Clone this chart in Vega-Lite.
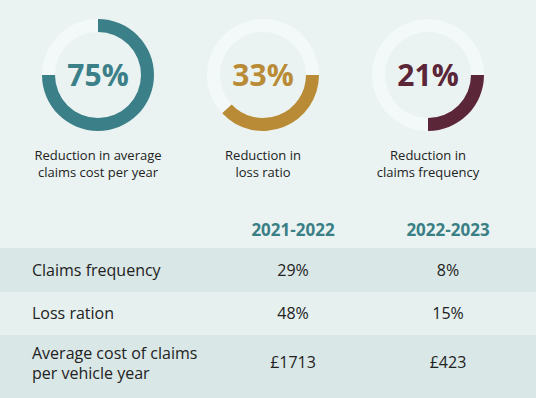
{
  "$schema": "https://vega.github.io/schema/vega-lite/v6.json",
  "background": "#eaf3f2",
  "padding": 0,
  "spacing": 0,
  "bounds": "flush",
  "config": {"view": {"stroke": null}, "font": "Open Sans", "text": {"font": "Open Sans"}},
  "datasets": {
    "donuts": [
      {"metric": "Average claims cost", "pct": "75%", "start": 0, "end": 75, "label": "Reduction in average\nclaims cost per year"},
      {"metric": "Loss ratio", "pct": "33%", "start": 25, "end": 63, "label": "Reduction in\nloss ratio"},
      {"metric": "Claims frequency", "pct": "21%", "start": 25, "end": 50, "label": "Reduction in\nclaims frequency"}
    ],
    "table": [
      {"row": "header", "col": "2021-2022", "text": "2021-2022"},
      {"row": "header", "col": "2022-2023", "text": "2022-2023"},
      {"row": "Claims frequency", "col": "label", "text": "Claims frequency"},
      {"row": "Claims frequency", "col": "2021-2022", "text": "29%"},
      {"row": "Claims frequency", "col": "2022-2023", "text": "8%"},
      {"row": "Loss ration", "col": "label", "text": "Loss ration"},
      {"row": "Loss ration", "col": "2021-2022", "text": "48%"},
      {"row": "Loss ration", "col": "2022-2023", "text": "15%"},
      {"row": "Average cost", "col": "label", "text": "Average cost of claims\nper vehicle year"},
      {"row": "Average cost", "col": "2021-2022", "text": "£1713"},
      {"row": "Average cost", "col": "2022-2023", "text": "£423"}
    ]
  },
  "vconcat": [
    {
      "width": 536, "height": 150,
      "data": {"name": "donuts"},
      "encoding": {
        "x": {"field": "metric", "type": "nominal", "scale": {"type": "point", "domain": ["Average claims cost", "Loss ratio", "Claims frequency"], "range": [98, 428], "padding": 0}, "axis": null}
      },
      "layer": [
        {"mark": {"type": "arc", "radius": 56, "radius2": 43, "theta": 0, "theta2": 6.2832, "color": "#f3f8f8"}},
        {"mark": {"type": "arc", "radius": 56, "radius2": 43},
         "encoding": {
           "theta": {"field": "start", "type": "quantitative", "stack": null, "scale": {"domain": [0, 100], "range": [0, 6.2832]}},
           "theta2": {"field": "end"},
           "color": {"field": "metric", "type": "nominal", "scale": {"domain": ["Average claims cost", "Loss ratio", "Claims frequency"], "range": ["#3b8088", "#b98b36", "#5b2638"]}, "legend": null}
         }},
        {"mark": {"type": "text", "fontSize": 30, "fontWeight": "bold", "baseline": "middle", "dy": 2},
         "encoding": {
           "text": {"field": "pct"},
           "color": {"field": "metric", "type": "nominal", "scale": {"domain": ["Average claims cost", "Loss ratio", "Claims frequency"], "range": ["#3b8088", "#b98b36", "#5b2638"]}, "legend": null}
         }},
        {"mark": {"type": "text", "fontSize": 13, "baseline": "top", "dy": 75, "lineBreak": "\n", "lineHeight": 17, "color": "#222222"},
         "encoding": {"text": {"field": "label"}}}
      ]
    },
    {
      "width": 536, "height": 98,
      "data": {"name": "table"},
      "transform": [{"filter": "datum.row == 'header'"}],
      "mark": {"type": "text", "fontSize": 17, "fontWeight": "bold", "color": "#3b7f86", "baseline": "middle", "dy": 32},
      "encoding": {
        "x": {"field": "col", "type": "nominal", "scale": {"type": "point", "domain": ["2021-2022", "2022-2023"], "range": [293, 448], "padding": 0}, "axis": null},
        "text": {"field": "text"}
      }
    },
    {
      "width": 536, "height": 44,
      "view": {"fill": "#d9e7e6", "stroke": null},
      "data": {"name": "table"},
      "transform": [{"filter": "datum.row == 'Claims frequency'"}],
      "resolve": {"scale": {"x": "independent"}},
      "layer": [
        {"transform": [{"filter": "datum.col == 'label'"}], "mark": {"type": "text", "fontSize": 16, "align": "left", "baseline": "middle", "dy": 1, "color": "#222222"},
         "encoding": {"x": {"field": "col", "type": "nominal", "scale": {"type": "point", "domain": ["label"], "range": [32, 32], "padding": 0}, "axis": null}, "text": {"field": "text"}}},
        {"transform": [{"filter": "datum.col != 'label'"}], "mark": {"type": "text", "fontSize": 16, "align": "center", "baseline": "middle", "dy": 1, "color": "#222222"},
         "encoding": {"x": {"field": "col", "type": "nominal", "scale": {"type": "point", "domain": ["2021-2022", "2022-2023"], "range": [293, 448], "padding": 0}, "axis": null}, "text": {"field": "text"}}}
      ]
    },
    {
      "width": 536, "height": 43,
      "view": {"fill": "#e6f0ef", "stroke": null},
      "data": {"name": "table"},
      "transform": [{"filter": "datum.row == 'Loss ration'"}],
      "resolve": {"scale": {"x": "independent"}},
      "layer": [
        {"transform": [{"filter": "datum.col == 'label'"}], "mark": {"type": "text", "fontSize": 16, "align": "left", "baseline": "middle", "color": "#222222"},
         "encoding": {"x": {"field": "col", "type": "nominal", "scale": {"type": "point", "domain": ["label"], "range": [32, 32], "padding": 0}, "axis": null}, "text": {"field": "text"}}},
        {"transform": [{"filter": "datum.col != 'label'"}], "mark": {"type": "text", "fontSize": 16, "align": "center", "baseline": "middle", "color": "#222222"},
         "encoding": {"x": {"field": "col", "type": "nominal", "scale": {"type": "point", "domain": ["2021-2022", "2022-2023"], "range": [293, 448], "padding": 0}, "axis": null}, "text": {"field": "text"}}}
      ]
    },
    {
      "width": 536, "height": 63,
      "view": {"fill": "#d9e7e6", "stroke": null},
      "data": {"name": "table"},
      "transform": [{"filter": "datum.row == 'Average cost'"}],
      "resolve": {"scale": {"x": "independent"}},
      "layer": [
        {"transform": [{"filter": "datum.col == 'label'"}], "mark": {"type": "text", "fontSize": 16, "align": "left", "baseline": "middle", "lineBreak": "\n", "lineHeight": 20, "dy": -13, "color": "#222222"},
         "encoding": {"x": {"field": "col", "type": "nominal", "scale": {"type": "point", "domain": ["label"], "range": [32, 32], "padding": 0}, "axis": null}, "text": {"field": "text"}}},
        {"transform": [{"filter": "datum.col != 'label'"}], "mark": {"type": "text", "fontSize": 16, "align": "center", "baseline": "middle", "dy": -4, "color": "#222222"},
         "encoding": {"x": {"field": "col", "type": "nominal", "scale": {"type": "point", "domain": ["2021-2022", "2022-2023"], "range": [293, 448], "padding": 0}, "axis": null}, "text": {"field": "text"}}}
      ]
    }
  ]
}
